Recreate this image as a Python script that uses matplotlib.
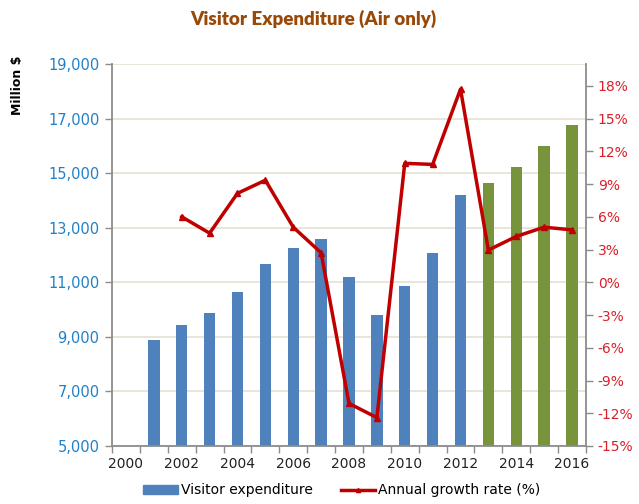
import numpy as np
import matplotlib.pyplot as plt
from matplotlib.patches import Patch
from matplotlib.lines import Line2D

# data
years = [2001, 2002, 2003, 2004, 2005, 2006, 2007, 2008,
         2009, 2010, 2011, 2012, 2013, 2014, 2015, 2016]
expenditure = [8895, 9435, 9865, 10660, 11665, 12250, 12595, 11200,
               9800, 10880, 12070, 14210, 14630, 15240, 16000, 16760]
growth_years = [2002, 2003, 2004, 2005, 2006, 2007, 2008, 2009,
                2010, 2011, 2012, 2013, 2014, 2015, 2016]
growth = [6.0, 4.5, 8.15, 9.35, 5.05, 2.7, -11.1, -12.4,
          10.9, 10.8, 17.7, 2.95, 4.2, 5.05, 4.8]
label_years = [2000, 2002, 2004, 2006, 2008, 2010, 2012, 2014, 2016]
first_forecast = 2013

blue = '#4F81BD'
green = '#77933C'
red = '#C00000'
axis_grey = '#8C8C8C'

fig = plt.figure(figsize=(6.39, 5.04), dpi=100)
ax1 = fig.add_axes([0.1753, 0.1151, 0.7417, 0.7579])
ax2 = ax1.twinx()

colors = [green if y >= first_forecast else blue for y in years]
ax1.bar(years, expenditure, width=0.41, color=colors, zorder=2)

ax1.set_xlim(1999.5, 2016.5)
ax1.set_ylim(5000, 19000)
ax1.set_yticks(np.arange(5000, 19001, 2000))
ax1.set_yticklabels(['{:,}'.format(v) for v in range(5000, 19001, 2000)])
ax1.yaxis.grid(True, color='#E6E0D2', linewidth=1.2, zorder=0)
ax1.set_axisbelow(True)

# tick marks between categories, labels every second year
ax1.set_xticks(np.arange(1999.5, 2017, 1.0))
ax1.set_xticklabels([])
ax1.set_xticks(label_years, minor=True)
ax1.set_xticklabels([str(y) for y in label_years], minor=True)
ax1.tick_params(axis='x', which='major', length=5, color=axis_grey, width=1)
ax1.tick_params(axis='x', which='minor', length=0, pad=8, labelsize=10, labelcolor='#222222')
ax1.tick_params(axis='y', length=5, color=axis_grey, width=1, labelsize=10.5,
                labelcolor='#2081C8', pad=4)

for side in ['top', 'right']:
    ax1.spines[side].set_visible(False)
for side in ['left', 'bottom']:
    ax1.spines[side].set_color(axis_grey)
    ax1.spines[side].set_linewidth(1.3)

ax2.plot(growth_years, growth, color=red, linewidth=2.5, marker='^',
         markersize=4, zorder=3)
ax2.set_ylim(-15, 20)
ax2.set_yticks(np.arange(-15, 19, 3))
ax2.set_yticklabels(['{}%'.format(v) for v in range(-15, 19, 3)])
ax2.tick_params(axis='y', length=5, color=axis_grey, width=1, labelsize=10,
                labelcolor='#D9202A', pad=3.5)
for side in ['top', 'left', 'bottom']:
    ax2.spines[side].set_visible(False)
ax2.spines['right'].set_color(axis_grey)
ax2.spines['right'].set_linewidth(1.3)

fig.text(0.49, 0.963, 'Visitor Expenditure (Air only)', ha='center', va='center',
         fontsize=13.5, fontweight='heavy', color='#984807', family='Lato')
fig.text(0.028, 0.83, 'Million $', rotation=90, ha='center', va='center',
         fontsize=9, fontweight='bold', color='black')

handles = [Patch(facecolor=blue, edgecolor=blue),
           Line2D([0], [0], color=red, linewidth=2.5, marker='^', markersize=3)]
fig.legend(handles, ['Visitor expenditure', 'Annual growth rate (%)'],
           loc='center', bbox_to_anchor=(0.535, 0.027), ncol=2, frameon=False,
           fontsize=10, handlelength=2.5, handleheight=0.6, handletextpad=0.2,
           columnspacing=2.0)

fig.savefig('out.png', dpi=100)
